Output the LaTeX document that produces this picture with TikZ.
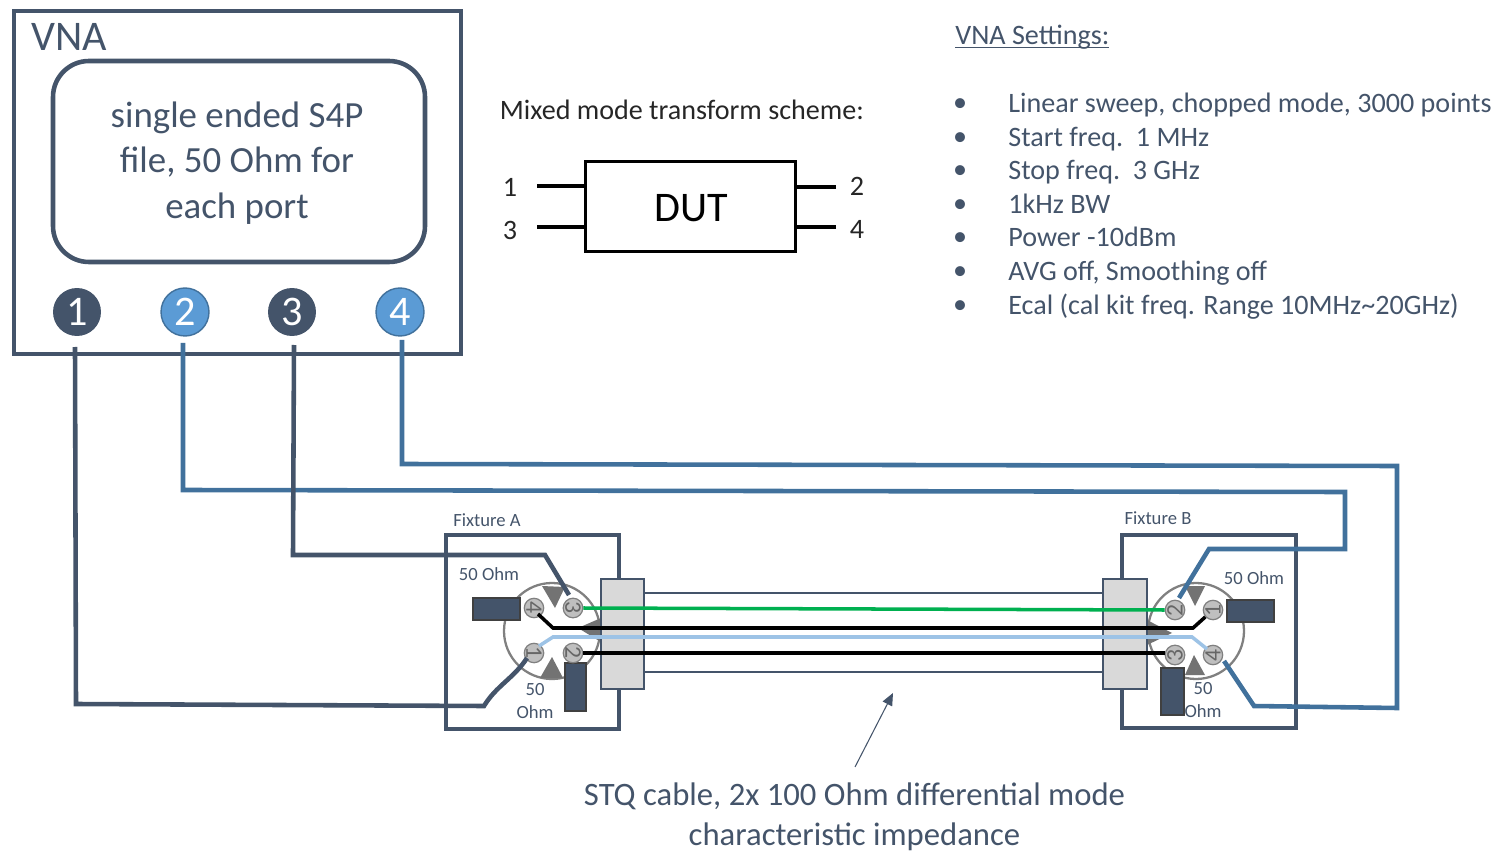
\documentclass[tikz,border=0pt]{standalone}
\usepackage{fontspec}
\setmainfont{Carlito}
\usetikzlibrary{arrows.meta}
\definecolor{slate}{HTML}{44546A}
\definecolor{wireblue}{HTML}{41719C}
\definecolor{portblue}{HTML}{5B9BD5}
\definecolor{sheath}{HTML}{D9D9D9}
\definecolor{pairblue}{HTML}{9DC3E6}
\definecolor{pairgreen}{HTML}{00B050}
\newcommand{\fs}[1]{\fontsize{#1}{#1}\selectfont}
\begin{document}
\begin{tikzpicture}[x=0.02cm,y=-0.02cm,font=\color{slate}]
        \tikzstyle{case} = [draw=slate, line width=2.6pt]
        \tikzstyle{port} = [circle, minimum size=0.96cm, inner sep=0pt, font=\fs{24}\color{white}]
        \tikzstyle{pin} = [circle, draw=gray, fill=gray!50, line width=0.7pt, minimum size=0.38cm, inner sep=0pt, font=\fs{13.5}\color{black!60}]
        \tikzstyle{load} = [draw=black!75, fill=slate, line width=1.2pt]
        \tikzstyle{clamp} = [draw=slate, fill=sheath, line width=1.3pt]
        \tikzstyle{wire} = [line width=2.6pt]
        \tikzstyle{pair} = [line width=2pt]
        \tikzstyle{lead} = [line width=2pt, black]
        \tikzstyle{small} = [font=\fs{10.6}\color{slate}, align=center, inner sep=0pt]
        \tikzstyle{setting} = [font=\fs{16}\color{slate}, anchor=base west, inner sep=0pt]
        \tikzstyle{dot} = [font=\fs{16}\color{slate}, anchor=base, inner sep=0pt]
        \tikzstyle{scheme} = [font=\fs{16}\color{black!85}, inner sep=0pt]

        \useasboundingbox (0,0) rectangle (1495,851);

        % VNA
        \draw[case] (14,11) rectangle (461,354);
        \draw[case, rounded corners=0.72cm] (53,61) rectangle (425,262);
        \node (vna) at (69,37) {\fs{24}VNA};
        \node (file) at (237,163) [align=center, font=\fs{21}\color{slate}] {single ended S4P\\[5pt]file, 50 Ohm for\\[5pt]each port};
        \node (p1) [port, fill=slate] at (77,312) {1};
        \node (p2) [port, fill=portblue, draw=wireblue, line width=0.8pt] at (185,312) {2};
        \node (p3) [port, fill=slate] at (292,312) {3};
        \node (p4) [port, fill=portblue, draw=wireblue, line width=0.8pt] at (400,312) {4};

        % transform scheme
        \node (title) [scheme, anchor=base west] at (499.5,120) {Mixed mode transform scheme:};
        \node (dut) [draw=black, line width=1.6pt, minimum width=4.2cm, minimum height=1.8cm, inner sep=0pt] at (690.5,206.5) {};
        \node (dutlabel) [font=\fs{24}\color{black}] at (691.5,208) {DUT};
        \node (d1) [scheme] at (510,187) {1};
        \node (d3) [scheme] at (510,230) {3};
        \node (d2) [scheme] at (857,186) {2};
        \node (d4) [scheme] at (857,229) {4};
        \coordinate (s1) at (537,186);
        \coordinate (s3) at (537,227);
        \coordinate (s2) at (836,187);
        \coordinate (s4) at (836,227);
        \draw[black, line width=2.6pt] (s1) -- (s1 -| dut.west);
        \draw[black, line width=2.6pt] (s3) -- (s3 -| dut.west);
        \draw[black, line width=2.6pt] (s2) -- (s2 -| dut.east);
        \draw[black, line width=2.6pt] (s4) -- (s4 -| dut.east);

        % settings
        \node (head) [setting] at (955,45) {\underline{\smash{VNA Settings:}}};
        \node (b1) [dot] at (960,112) {\textbullet};
        \node (b2) [dot] at (960,146) {\textbullet};
        \node (b3) [dot] at (960,179) {\textbullet};
        \node (b4) [dot] at (960,213) {\textbullet};
        \node (b5) [dot] at (960,246) {\textbullet};
        \node (b6) [dot] at (960,280) {\textbullet};
        \node (b7) [dot] at (960,314) {\textbullet};
        \node (t1) [setting] at (1008,113) {Linear sweep, chopped mode, 3000 points};
        \node (t2) [setting] at (1008,147) {Start freq.\ \ 1 MHz};
        \node (t3) [setting] at (1008,180) {Stop freq.\ \ 3 GHz};
        \node (t4) [setting] at (1008,214) {1kHz BW};
        \node (t5) [setting] at (1008,247) {Power -10dBm};
        \node (t6) [setting] at (1008,281) {AVG off, Smoothing off};
        \node (t7) [setting] at (1008,315) {Ecal (cal kit freq. Range 10MHz\textasciitilde20GHz)};

        % fixture A
        \node (fa) [small] at (487,520) {Fixture A};
        \draw[case] (446,535) rectangle (619,729);
        \draw[gray, line width=1.3pt, fill=white] (552,631) circle (48);
        \fill[black!55] (542,586) -- (565,587) -- (555,608) -- cycle;
        \fill[black!55] (540,678) -- (563,678) -- (552,657) -- cycle;
        \fill[black!55] (578,628) -- (601,618) -- (601,642) -- cycle;
        \draw[load] (473,598) rectangle (520,620);
        \draw[load] (565,663) rectangle (586,711);
        \node (a4) [pin] at (534,608) {\rotatebox{-90}{4}};
        \node (a3) [pin] at (573,608) {\rotatebox{-90}{3}};
        \node (a1) [pin] at (534,653) {\rotatebox{-90}{1}};
        \node (a2) [pin] at (573,653) {\rotatebox{-90}{2}};
        \node (oa1) [small] at (489,574) {50 Ohm};
        \node (oa2) [small] at (535,701) {50\\[3pt]Ohm};

        % fixture B
        \node (fb) [small] at (1158,518) {Fixture B};
        \draw[case] (1122,535) rectangle (1296,728);
        \draw[gray, line width=1.3pt, fill=white] (1196,631) circle (48);
        \fill[black!55] (1185,586) -- (1205,586) -- (1195,606) -- cycle;
        \fill[black!55] (1185,675) -- (1205,675) -- (1194,655) -- cycle;
        \fill[black!55] (1147,620) -- (1147,645) -- (1172,633) -- cycle;
        \draw[load] (1227,600) rectangle (1274,622);
        \draw[load] (1161,668) rectangle (1184,715);
        \node (b2pin) [pin] at (1175,610) {\rotatebox{90}{2}};
        \node (b1pin) [pin] at (1213,610) {\rotatebox{90}{1}};
        \node (b3pin) [pin] at (1175,655) {\rotatebox{90}{3}};
        \node (b4pin) [pin] at (1213,655) {\rotatebox{90}{4}};
        \node (ob1) [small] at (1254,578) {50 Ohm};
        \node (ob2) [small] at (1203,700) {50\\[3pt]Ohm};

        % STQ cable
        \node (ca) [clamp, rectangle, minimum width=0.86cm, minimum height=2.2cm, inner sep=0pt] at (622.5,634) {};
        \node (cb) [clamp, rectangle, minimum width=0.88cm, minimum height=2.2cm, inner sep=0pt] at (1125,634) {};
        \draw[slate, line width=1.1pt] (ca.east |- 0,593) -- (cb.west |- 0,593);
        \draw[slate, line width=1.1pt] (ca.east |- 0,672) -- (cb.west |- 0,672);
        \draw[pair, pairgreen] (a3.east) -- (b2pin.west);
        \draw[lead] (a4) ++(4,6) -- (553,628) -- (1193,628) -- (b1pin);
        \draw[pair, pairblue] (a1) ++(5,-7) -- (553,637) -- (1192,637) -- (1207,649);
        \draw[lead] (a2.east) -- (a2.east -| b3pin.west);

        % port wires
        \coordinate (w1) at (75,347);
        \coordinate (w2) at (183,343);
        \coordinate (w3) at (294,345);
        \coordinate (w4) at (402,340);
        \coordinate (e1) at (527,658);
        \coordinate (e2) at (1179,598);
        \coordinate (e3) at (569,595);
        \coordinate (e4) at (1224,661);
        \draw[wire, slate] (w1) -- (76,704) -- (484,706) .. controls (496,686) and (514,678) .. (e1);
        \draw[wire, wireblue] (w2) -- (183,490) -- (1345,492) -- (1345,549) -- (1209,549) -- (e2);
        \draw[wire, slate] (w3) -- (293,555) -- (545,555) -- (e3);
        \draw[wire, wireblue] (w4) -- (402,464) -- (1397,466) -- (1397,708) -- (1254,706) -- (e4);

        % label
        \node (stq) [align=center, font=\fs{18.6}\color{slate}] at (854.5,817) {STQ cable, 2x 100 Ohm differential mode\\[4pt]characteristic impedance};
        \coordinate (tip) at (893,693);
        \coordinate (tail) at (855,767);
        \draw[-{Triangle[length=7pt, width=6pt]}, slate, line width=0.6pt] (tail) -- (tip);
    \end{tikzpicture}
\end{document}
